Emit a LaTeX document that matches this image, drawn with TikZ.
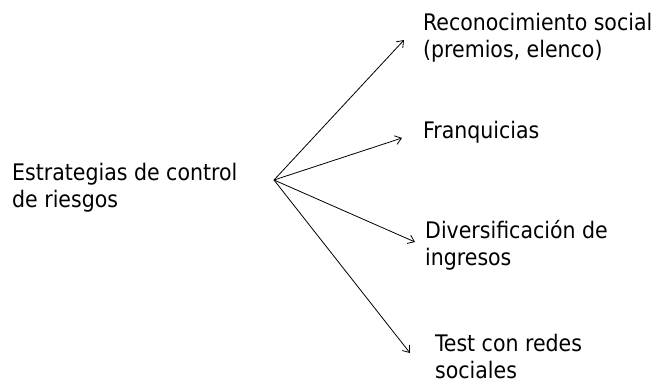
\documentclass[tikz,border=0pt]{standalone}
\usepackage{fontspec}
\setmainfont{DejaVu Sans Condensed}
\usetikzlibrary{arrows.meta}
\begin{document}
\begin{tikzpicture}[x=1pt,y=-1pt,
  label/.style={anchor=base west,inner sep=0pt,align=left,
    font=\fontsize{22.8}{27}\selectfont},
  branch/.style={line width=0.8pt,-{Straight Barb[length=6pt,width=9pt]}}]
  \useasboundingbox (0,0) rectangle (658,383);
  % multi-line labels are anchored at the baseline of their last line
  \node[label] (root) at (12,207) {Estrategias de control\\de riesgos};
  \node[label] (rec)  at (423,57)  {Reconocimiento social\\(premios, elenco)};
  \node[label] (fra)  at (423,138) {Franquicias};
  \node[label] (div)  at (425,265) {Diversificación de\\ingresos};
  \node[label] (test) at (435,378) {Test con redes\\sociales};
  \coordinate (hub) at (274,180);
  \coordinate (t1) at (404,40);
  \coordinate (t2) at (402,138);
  \coordinate (t3) at (415,242);
  \coordinate (t4) at (410,353);
  \draw[branch] (hub) -- (t1);
  \draw[branch] (hub) -- (t2);
  \draw[branch] (hub) -- (t3);
  \draw[branch] (hub) -- (t4);
\end{tikzpicture}
\end{document}
